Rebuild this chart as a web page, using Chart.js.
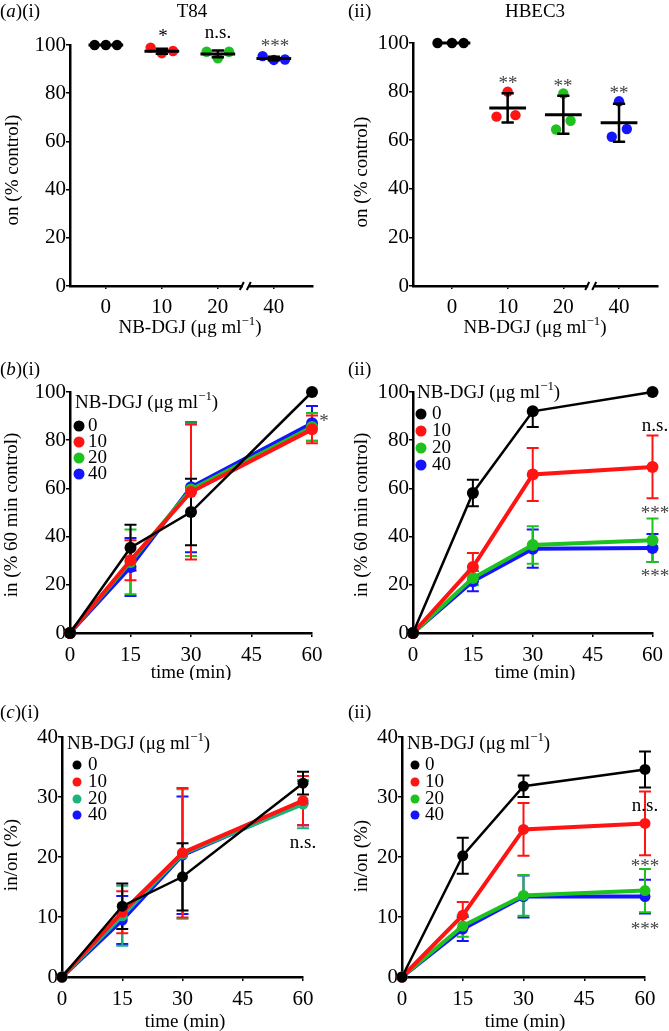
<!DOCTYPE html>
<html>
<head>
<meta charset="utf-8">
<script src="https://cdn.jsdelivr.net/npm/chart.js@4.4.0/dist/chart.umd.min.js"></script>
<style>
  body { margin: 0; background: #fff; }
  #wrap { position: relative; width: 669px; height: 1031px; }
  canvas { position: absolute; }
</style>
</head>
<body>
<div id="wrap">
  <canvas id="ai"></canvas>
  <canvas id="aii"></canvas>
  <canvas id="bi"></canvas>
  <canvas id="bii"></canvas>
  <canvas id="ci"></canvas>
  <canvas id="cii"></canvas>
</div>
<script>
const FONT = "'Liberation Serif', 'Times New Roman', serif";
const FS = 19;
const TICK_FS = 21;

// categories / ticks
const doses = ['0', '10', '20', '40'];
const times = [0, 15, 30, 60];
const colours = ['#000000', '#ff1414', '#1ec21e', '#1414ff'];
const coloursCi = ['#000000', '#ff1414', '#1db37a', '#1414ff'];

// (a)(i) T84 - three replicates per dose
const aiVals = [[100, 100, 100], [98.9, 96.6, 97.5], [97.2, 94.5, 97.2], [95.4, 93.8, 94.0]];
const aiMean = [100, 97.4, 96.3, 94.4];
const aiSd = [0, 1.0, 1.4, 0.7];
const aiJitter = [[-0.2, 0, 0.2], [-0.2, 0, 0.2], [-0.2, 0, 0.2], [-0.2, 0, 0.2]];

// (a)(ii) HBEC3
const aiiVals = [[100, 100, 100], [69.7, 80, 70.3], [64.4, 79.2, 68], [61.4, 76, 64.6]];
const aiiMean = [100, 73.3, 70.5, 67.2];
const aiiSd = [0, 6, 7.8, 7.8];
const aiiJitter = [[-0.26, 0, 0.21], [-0.2, 0, 0.14], [-0.13, 0, 0.13], [-0.13, 0, 0.14]];

// (b)(i) in (% 60 min control), T84
const bi0 = [0, 35.4, 50.2, 100], bi0Err = [0, 9.5, 13.8, 0];
const bi10 = [0, 30.2, 58.5, 84.5], bi10Err = [0, 8.3, 28, 5.8];
const bi20 = [0, 29.5, 59.5, 85.5], bi20Err = [0, 13.4, 27.5, 5.8];
const bi40 = [0, 27.4, 60.5, 87], bi40Err = [0, 12, 27, 7.2];

// (b)(ii) HBEC3
const bii0 = [0, 58.1, 92, 100], bii0Up = [0, 5.5, 0, 0], bii0Down = [0, 5.5, 6.5, 0];
const bii10 = [0, 27.4, 65.8, 68.9], bii10Err = [0, 5.8, 11, 13];
const bii20 = [0, 22.8, 36.5, 38.5], bii20Err = [0, 3, 7.8, 9];
const bii40 = [0, 21.5, 35, 35.3], bii40Err = [0, 4.2, 7.9, 5.8];

// (c)(i) in/on (%), T84
const ci0 = [0, 11.8, 16.7, 32.3], ci0Err = [0, 3.8, 5.6, 1.9];
const ci10 = [0, 10.8, 20.7, 29.4], ci10Err = [0, 3.5, 10.8, 4.1];
const ci20 = [0, 10.2, 20.5, 28.8], ci20Err = [0, 5, 10.8, 4];
const ci40 = [0, 9.5, 20.3, 29], ci40Err = [0, 4, 9.8, 3.7];

// (c)(ii) HBEC3
const cii0 = [0, 20.2, 31.8, 34.6], cii0Err = [0, 3, 1.8, 3];
const cii10 = [0, 10.3, 24.6, 25.6], cii10Err = [0, 2.2, 4.4, 5.3];
const cii20 = [0, 8.5, 13.6, 14.4], cii20Err = [0, 1.8, 3.4, 3.6];
const cii40 = [0, 8, 13.4, 13.4], cii40Err = [0, 2, 3.5, 2.8];

const nbTitle = [{ text: 'NB-DGJ (\u03bcg ml' }, { text: '\u22121', sup: true }, { text: ')' }];

function setFont(ctx, size, style) {
  ctx.font = (style || '') + ' ' + size + 'px ' + FONT;
}

// draws text made of parts (italic / superscript pieces)
function drawText(ctx, t, ox, oy) {
  const size = t.size || FS;
  const parts = t.parts || [{ text: t.text }];
  ctx.save();
  ctx.fillStyle = t.color || '#000';
  ctx.textBaseline = 'middle';
  ctx.textAlign = 'left';
  ctx.translate(t.x - ox, t.y - oy);
  if (t.rot) ctx.rotate(t.rot);
  let total = 0;
  const widths = parts.map(p => {
    setFont(ctx, p.sup ? size * 0.68 : size, p.style);
    const w = ctx.measureText(p.text).width;
    total += w;
    return w;
  });
  let x = 0;
  if ((t.align || 'center') === 'center') x = -total / 2;
  else if (t.align === 'right') x = -total;
  const dy = t.star ? size * 0.2 : 0;
  parts.forEach((p, i) => {
    setFont(ctx, p.sup ? size * 0.68 : size, p.style);
    ctx.fillText(p.text, x, dy + (p.sup ? -size * 0.32 : 0));
    x += widths[i];
  });
  ctx.restore();
}

const extras = {
  id: 'extras',
  beforeDatasetsDraw(chart, args, o) {
    if (!o.errors) return;
    const { ctx, scales: { x, y } } = chart;
    ctx.save();
    ctx.lineWidth = 2;
    for (let d = o.errors.length - 1; d >= 0; d--) {
      const e = o.errors[d];
      const ds = chart.data.datasets[d];
      ctx.strokeStyle = ds.borderColor;
      ds.data.forEach((pt, i) => {
        const up = e.up[i], down = e.down[i];
        if (!up && !down) return;
        const px = x.getPixelForValue(pt.x);
        const top = y.getPixelForValue(pt.y + up), bot = y.getPixelForValue(pt.y - down);
        ctx.beginPath();
        ctx.moveTo(px, top); ctx.lineTo(px, bot);
        if (up) { ctx.moveTo(px - 6, top); ctx.lineTo(px + 6, top); }
        if (down) { ctx.moveTo(px - 6, bot); ctx.lineTo(px + 6, bot); }
        ctx.stroke();
      });
    }
    ctx.restore();
  },
  afterDatasetsDraw(chart, args, o) {
    if (!o.means) return;
    const { ctx, scales: { x, y } } = chart;
    const m = o.means;
    ctx.save();
    ctx.strokeStyle = '#000';
    m.mean.forEach((v, i) => {
      const py = y.getPixelForValue(v);
      ctx.lineWidth = 3;
      ctx.beginPath();
      ctx.moveTo(x.getPixelForValue(i - m.half), py);
      ctx.lineTo(x.getPixelForValue(i + m.half), py);
      ctx.stroke();
      if (m.sd[i]) {
        const px = x.getPixelForValue(i);
        const t = y.getPixelForValue(v + m.sd[i]), b = y.getPixelForValue(v - m.sd[i]);
        const c = x.getPixelForValue(i + m.cap) - px;
        ctx.lineWidth = 2.5;
        ctx.beginPath();
        ctx.moveTo(px, t); ctx.lineTo(px, b);
        ctx.moveTo(px - c, t); ctx.lineTo(px + c, t);
        ctx.moveTo(px - c, b); ctx.lineTo(px + c, b);
        ctx.stroke();
      }
    });
    ctx.restore();
  },
  afterDraw(chart, args, o) {
    const { ctx } = chart;
    const ox = o.rect.x, oy = o.rect.y;
    if (o.breakAt !== undefined) {
      const px = chart.scales.x.getPixelForValue(o.breakAt);
      const py = chart.chartArea.bottom;
      ctx.save();
      ctx.fillStyle = '#fff';
      ctx.fillRect(px - 3, py - 3, 6, 6);
      ctx.strokeStyle = '#000';
      ctx.lineWidth = 2;
      ctx.beginPath();
      ctx.moveTo(px - 6, py + 4); ctx.lineTo(px - 2, py - 4);
      ctx.moveTo(px + 1, py + 4); ctx.lineTo(px + 5, py - 4);
      ctx.stroke();
      ctx.restore();
    }
    (o.texts || []).forEach(t => drawText(ctx, t, ox, oy));
    if (o.legend) {
      const L = o.legend;
      drawText(ctx, { x: L.titleX, y: L.titleY, parts: nbTitle, align: 'left' }, ox, oy);
      L.rows.forEach((ry, i) => {
        ctx.save();
        ctx.fillStyle = L.colours[i];
        ctx.beginPath();
        ctx.arc(L.dotX - ox, ry - oy, L.r, 0, Math.PI * 2);
        ctx.fill();
        ctx.restore();
        drawText(ctx, { x: L.textX, y: ry, text: doses[i], align: 'left' }, ox, oy);
      });
    }
  }
};

function axisCommon(extra) {
  return Object.assign({
    grid: { drawOnChartArea: false, drawTicks: true, tickLength: 4, color: '#000', lineWidth: 1.5 },
    border: { display: true, color: '#000', width: 2.5 },
    ticks: { color: '#000', font: { family: FONT, size: TICK_FS }, padding: 0 }
  }, extra);
}

function makeChart(id, rect, area, type, datasets, xAxis, yAxis, extraOpts) {
  const cv = document.getElementById(id);
  cv.width = rect.w; cv.height = rect.h;
  cv.style.left = rect.x + 'px'; cv.style.top = rect.y + 'px';
  const yW = area.l - rect.x;
  const xH = rect.y + rect.h - area.b;
  xAxis.afterFit = s => { s.height = xH; };
  yAxis.afterFit = s => { s.width = yW; };
  extraOpts.rect = rect;
  return new Chart(cv, {
    type: type,
    data: { datasets: datasets },
    options: {
      responsive: false,
      animation: false,
      devicePixelRatio: 1,
      events: [],
      layout: { padding: { left: 0, bottom: 0, top: area.t - rect.y, right: rect.x + rect.w - area.r } },
      scales: { x: xAxis, y: yAxis },
      plugins: { legend: { display: false }, tooltip: { enabled: false }, extras: extraOpts }
    },
    plugins: [extras]
  });
}

// ---------- (a) dot plots ----------
function dotSets(vals, jitter) {
  return vals.map((g, i) => ({
    data: g.map((v, k) => ({ x: i + jitter[i][k], y: v })),
    backgroundColor: colours[i],
    borderWidth: 0,
    pointRadius: 5.2,
    clip: false
  }));
}

function doseAxis(min, max) {
  const ax = axisCommon({ type: 'linear', min: min, max: max });
  ax.grid.tickLength = 3;
  ax.ticks.padding = 6;
  ax.afterBuildTicks = s => { s.ticks = [0, 1, 2, 3].map(v => ({ value: v })); };
  ax.ticks.callback = v => doses[v];
  return ax;
}

function pctAxis(max, step) {
  return axisCommon({ type: 'linear', min: 0, max: max, ticks: { color: '#000', font: { family: FONT, size: TICK_FS }, padding: 0, stepSize: step } });
}

makeChart('ai', { x: 0, y: 0, w: 335, h: 340 }, { l: 70, r: 313, t: 45, b: 286 }, 'scatter',
  dotSets(aiVals, aiJitter), doseAxis(-0.64, 3.7), pctAxis(100, 20), {
    means: { mean: aiMean, sd: aiSd, half: 0.31, cap: 0.11 },
    breakAt: 2.5,
    texts: [
      { x: 0, y: 12, parts: [{ text: '(' }, { text: 'a', style: 'italic' }, { text: ')(i)' }], align: 'left' },
      { x: 192, y: 12, text: 'T84' },
      { x: 13, y: 170, text: 'on (% control)', rot: -Math.PI / 2 },
      { x: 190, y: 328, parts: nbTitle },
      { x: 163, y: 33, text: '*', star: true },
      { x: 218, y: 33, text: 'n.s.' },
      { x: 275, y: 43, text: '***', star: true, color: '#444' }
    ]
  });

makeChart('aii', { x: 335, y: 0, w: 334, h: 340 }, { l: 413, r: 658, t: 43, b: 286 }, 'scatter',
  dotSets(aiiVals, aiiJitter), doseAxis(-0.7, 3.7), pctAxis(100, 20), {
    means: { mean: aiiMean, sd: aiiSd, half: 0.33, cap: 0.11 },
    breakAt: 2.5,
    texts: [
      { x: 348, y: 12, text: '(ii)', align: 'left' },
      { x: 535, y: 12, text: 'HBEC3' },
      { x: 362, y: 172, text: 'on (% control)', rot: -Math.PI / 2 },
      { x: 535, y: 328, parts: nbTitle },
      { x: 508, y: 80, text: '**', star: true, color: '#444' },
      { x: 563, y: 83, text: '**', star: true, color: '#444' },
      { x: 619, y: 90, text: '**', star: true, color: '#444' }
    ]
  });

// ---------- (b), (c) time courses ----------
function lineSets(series, cols, r) {
  return series.map((s, i) => ({
    data: s.map((v, k) => ({ x: times[k], y: v })),
    borderColor: cols[i],
    backgroundColor: cols[i],
    borderWidth: i === 0 ? 2.5 : 4,
    pointRadius: r,
    pointBorderWidth: 0,
    tension: 0,
    clip: false
  }));
}

function timeAxis() {
  const ax = axisCommon({ type: 'linear', min: 0, max: 60 });
  ax.ticks.stepSize = 15;
  ax.ticks.padding = 6;
  return ax;
}

const sym = e => ({ up: e, down: e });

makeChart('bi', { x: 0, y: 340, w: 335, h: 340 }, { l: 70, r: 312, t: 392, b: 633 }, 'line',
  lineSets([bi0, bi10, bi20, bi40], colours, 6), timeAxis(), pctAxis(100, 20), {
    errors: [sym(bi0Err), sym(bi10Err), sym(bi20Err), sym(bi40Err)],
    legend: { titleX: 75, titleY: 403, dotX: 79, textX: 88, r: 5.5, rows: [426, 442, 458, 474], colours: colours },
    texts: [
      { x: 0, y: 370, parts: [{ text: '(' }, { text: 'b', style: 'italic' }, { text: ')(i)' }], align: 'left' },
      { x: 12, y: 515, text: 'in (% 60 min control)', rot: -Math.PI / 2 },
      { x: 191, y: 673, text: 'time (min)' },
      { x: 324, y: 418, text: '*', star: true, color: '#444' }
    ]
  });

makeChart('bii', { x: 335, y: 340, w: 334, h: 340 }, { l: 413, r: 655, t: 392, b: 633 }, 'line',
  lineSets([bii0, bii10, bii20, bii40], colours, 6), timeAxis(), pctAxis(100, 20), {
    errors: [{ up: bii0Up, down: bii0Down }, sym(bii10Err), sym(bii20Err), sym(bii40Err)],
    legend: { titleX: 417, titleY: 393, dotX: 421, textX: 432, r: 5.5, rows: [414, 431, 448, 465], colours: colours },
    texts: [
      { x: 348, y: 370, text: '(ii)', align: 'left' },
      { x: 362, y: 515, text: 'in (% 60 min control)', rot: -Math.PI / 2 },
      { x: 535, y: 673, text: 'time (min)' },
      { x: 655, y: 426, text: 'n.s.' },
      { x: 655, y: 510, text: '***', star: true, color: '#444' },
      { x: 655, y: 573, text: '***', star: true, color: '#444' }
    ]
  });

makeChart('ci', { x: 0, y: 680, w: 335, h: 351 }, { l: 62, r: 303, t: 737, b: 977 }, 'line',
  lineSets([ci0, ci10, ci20, ci40], coloursCi, 5.5), timeAxis(), pctAxis(40, 10), {
    errors: [sym(ci0Err), sym(ci10Err), sym(ci20Err), sym(ci40Err)],
    legend: { titleX: 67, titleY: 744, dotX: 77, textX: 88, r: 4.5, rows: [765, 782, 799, 815], colours: coloursCi },
    texts: [
      { x: 0, y: 713, parts: [{ text: '(' }, { text: 'c', style: 'italic' }, { text: ')(i)' }], align: 'left' },
      { x: 12, y: 855, text: 'in/on (%)', rot: -Math.PI / 2 },
      { x: 185, y: 1022, text: 'time (min)' },
      { x: 303, y: 843, text: 'n.s.' }
    ]
  });

makeChart('cii', { x: 335, y: 680, w: 334, h: 351 }, { l: 402, r: 645, t: 737, b: 977 }, 'line',
  lineSets([cii0, cii10, cii20, cii40], colours, 5.5), timeAxis(), pctAxis(40, 10), {
    errors: [sym(cii0Err), sym(cii10Err), sym(cii20Err), sym(cii40Err)],
    legend: { titleX: 407, titleY: 744, dotX: 415, textX: 425, r: 4.5, rows: [765, 782, 799, 815], colours: colours },
    texts: [
      { x: 348, y: 713, text: '(ii)', align: 'left' },
      { x: 362, y: 856, text: 'in/on (%)', rot: -Math.PI / 2 },
      { x: 525, y: 1022, text: 'time (min)' },
      { x: 645, y: 806, text: 'n.s.' },
      { x: 645, y: 863, text: '***', star: true, color: '#444' },
      { x: 645, y: 926, text: '***', star: true, color: '#444' }
    ]
  });
</script>
</body>
</html>
